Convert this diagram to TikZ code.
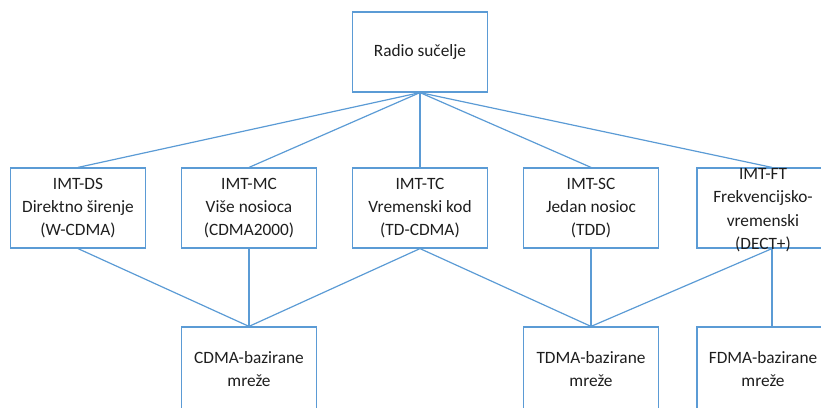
\documentclass[tikz,border=0pt]{standalone}
\usepackage{fontspec}
\setmainfont{Carlito}
\usepackage{tikz}
\definecolor{linkblue}{RGB}{91,155,213}
\definecolor{textgray}{RGB}{30,30,30}
\tikzstyle{box text} = [text=textgray, align=center, inner sep=0pt, font=\fontsize{17.3}{23.3}\selectfont]
\tikzstyle{box} = [rectangle, draw=linkblue, line width=1.2pt, box text, minimum width=135pt, minimum height=80pt]
\tikzstyle{wide box} = [box, minimum width=150pt]
\tikzstyle{net box} = [box, minimum height=84pt]
\tikzstyle{link} = [draw=linkblue, line width=1.2pt]

\begin{document}
\begin{tikzpicture}[x=1pt, y=-1pt, node distance=156pt]
        \clip (0,0) rectangle (821,407);
        \node (radio) [box] at (420,52) {Radio sučelje};
        \node (tc) [box, below of = radio] {IMT-TC\\Vremenski kod\\(TD-CDMA)};
        \node (mc) [box, left of = tc, xshift = -15pt] {IMT-MC\\Više nosioca\\(CDMA2000)};
        \node (ds) [box, left of = mc, xshift = -15pt] {IMT-DS\\Direktno širenje\\(W-CDMA)};
        \node (sc) [box, right of = tc, xshift = 15pt] {IMT-SC\\Jedan nosioc\\(TDD)};
        \node (ft) [wide box, right of = sc, xshift = 25pt, label={[box text, xshift=-9pt, yshift=-2pt]center:{IMT-FT\\Frekvencijsko-\\vremenski\\(DECT+)}}] {};
        \node (cdma) [net box, below of = mc, yshift = -5pt] {CDMA-bazirane\\mreže};
        \node (tdma) [net box, below of = sc, yshift = -5pt] {TDMA-bazirane\\mreže};
        \node (fdma) [net box, minimum width = 150pt, below of = ft, yshift = -5pt, label={[box text, xshift=-9pt]center:{FDMA-bazirane\\mreže}}] {};
        \draw [link] (radio.south) -- (ds.north);
        \draw [link] (radio.south) -- (mc.north);
        \draw [link] (radio.south) -- (tc.north);
        \draw [link] (radio.south) -- (sc.north);
        \draw [link] (radio.south) -- (ft.north);
        \draw [link] (ds.south) -- (cdma.north);
        \draw [link] (mc.south) -- (cdma.north);
        \draw [link] (tc.south) -- (cdma.north);
        \draw [link] (tc.south) -- (tdma.north);
        \draw [link] (sc.south) -- (tdma.north);
        \draw [link] (ft.south) -- (tdma.north);
        \draw [link] (ft.south) -- (fdma.north);
    \end{tikzpicture}
\end{document}
